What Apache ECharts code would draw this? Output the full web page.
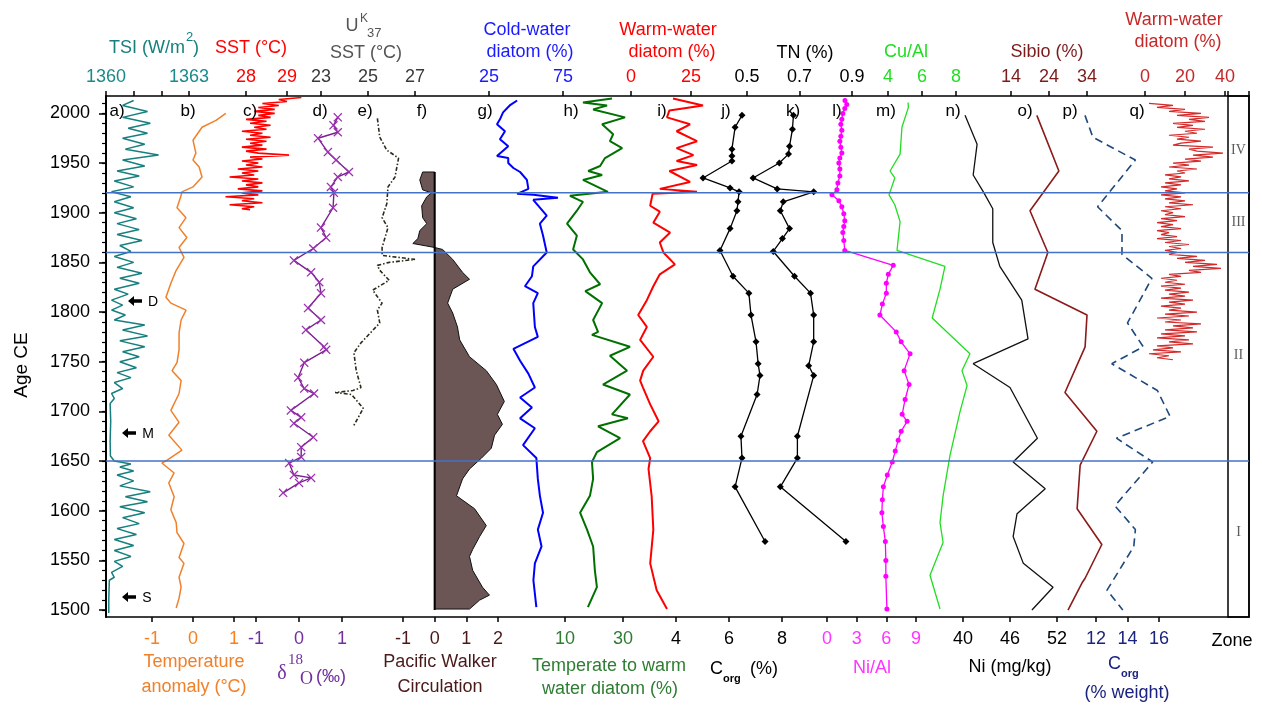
<!DOCTYPE html>
<html><head><meta charset="utf-8">
<script src="https://cdn.jsdelivr.net/npm/echarts@6/dist/echarts.min.js"></script>
<style>html,body{margin:0;padding:0;background:#fff}#c{width:1262px;height:706px}</style>
</head><body><div id="c"></div>
<script>
// ================= DATA =================
const ageLabels = [1500,1550,1600,1650,1700,1750,1800,1850,1900,1950,2000];
const ageMinorTicks = [1500,1510,1520,1530,1540,1550,1560,1570,1580,1590,1600,1610,1620,1630,1640,1650,1660,1670,1680,1690,1700,1710,1720,1730,1740,1750,1760,1770,1780,1790,1800,1810,1820,1830,1840,1850,1860,1870,1880,1890,1900,1910,1920,1930,1940,1950,1960,1970,1980,1990,2000,2010];
const zoneNames = ['IV','III','II','I'];
const zoneLabelYears = [1963,1890,1756,1578];
const zoneBoundaries = [1920,1860,1650];

const tsi = [[2013,1361.0],[2008,1360.6],[2002,1361.5],[1996,1360.6],[1990,1361.6],[1985,1360.8],[1980,1361.5],[1975,1360.6],[1969,1361.4],[1964,1360.7],[1958,1361.9],[1953,1360.6],[1947,1361.4],[1942,1360.4],[1937,1361.2],[1932,1360.3],[1926,1361.0],[1921,1360.2],[1916,1360.9],[1911,1360.3],[1905,1361.0],[1900,1360.3],[1894,1361.1],[1889,1360.4],[1883,1361.2],[1878,1360.4],[1872,1361.3],[1867,1360.5],[1861,1360.9],[1856,1360.3],[1850,1361.0],[1845,1360.4],[1839,1361.3],[1834,1360.5],[1829,1361.2],[1823,1360.3],[1818,1360.8],[1812,1360.2],[1807,1360.6],[1802,1360.2],[1797,1360.7],[1792,1360.3],[1787,1361.4],[1782,1360.6],[1776,1361.5],[1771,1360.5],[1765,1361.4],[1760,1360.6],[1755,1361.2],[1750,1360.5],[1744,1361.1],[1739,1360.4],[1734,1360.9],[1729,1360.3],[1723,1360.6],[1718,1360.2],[1713,1360.3],[1708,1360.15],[1690,1360.17],[1670,1360.15],[1655,1360.16],[1650,1360.3],[1647,1360.9],[1644,1360.5],[1640,1361.0],[1636,1360.4],[1630,1361.0],[1625,1360.5],[1619,1361.6],[1614,1360.7],[1609,1361.5],[1604,1360.5],[1598,1361.4],[1593,1360.6],[1587,1361.2],[1582,1360.4],[1576,1361.1],[1571,1360.3],[1565,1361.0],[1560,1360.3],[1554,1360.9],[1549,1360.3],[1544,1360.6],[1538,1360.2],[1533,1360.3],[1530,1360.12],[1510,1360.1],[1497,1360.1]];
const tsiTicks = [1360,1361,1362,1363], tsiLabels = [1360,1363];
const tempAnom = [[2000,0.8],[1993,0.56],[1986,0.22],[1973,0.0],[1960,0.07],[1953,0.0],[1946,0.15],[1936,0.22],[1926,0.0],[1921,-0.27],[1916,-0.3],[1905,-0.39],[1895,-0.17],[1885,-0.34],[1875,-0.15],[1865,-0.34],[1855,-0.22],[1842,-0.41],[1829,-0.54],[1815,-0.66],[1809,-0.54],[1802,-0.17],[1792,-0.29],[1779,-0.34],[1762,-0.34],[1749,-0.39],[1741,-0.51],[1731,-0.29],[1718,-0.34],[1701,-0.54],[1689,-0.34],[1676,-0.59],[1661,-0.27],[1651,-0.63],[1648,-0.76],[1638,-0.46],[1628,-0.59],[1614,-0.46],[1601,-0.54],[1588,-0.41],[1578,-0.39],[1567,-0.22],[1553,-0.34],[1547,-0.22],[1533,-0.34],[1523,-0.29],[1512,-0.34],[1502,-0.41]];
const tempTicks = [-1,0,1];
const sst = [[2016,29.35],[2014,28.8],[2012,29.0],[2010,28.4],[2008,28.8],[2006,28.3],[2004,28.7],[2002,28.2],[2000,28.7],[1998,28.3],[1996,28.6],[1994,28.0],[1992,28.5],[1990,28.1],[1988,28.6],[1986,28.2],[1984,28.5],[1982,27.9],[1980,28.4],[1978,28.1],[1976,28.6],[1974,28.0],[1972,28.5],[1970,28.1],[1968,28.4],[1966,27.9],[1964,28.5],[1962,28.0],[1960,28.3],[1958,29.05],[1956,28.1],[1954,28.4],[1952,27.9],[1950,28.3],[1948,28.0],[1946,28.4],[1944,27.8],[1942,28.3],[1940,27.9],[1938,28.2],[1936,27.6],[1934,28.3],[1932,27.9],[1930,28.4],[1928,28.0],[1926,28.3],[1924,27.8],[1922,28.4],[1920,27.9],[1918,28.3],[1916,27.5],[1914,28.2],[1912,27.9],[1910,28.4],[1908,27.6],[1906,28.2],[1904,27.9],[1903,28.1]];
const sstTicks = [28,29];
const d18o = [[1996,0.9],[1988,0.8],[1981,0.9],[1975,0.44],[1961,0.67],[1953,0.86],[1941,1.16],[1936,0.9],[1926,0.74],[1920,0.81],[1905,0.79],[1885,0.51],[1875,0.63],[1864,0.33],[1852,-0.12],[1840,0.28],[1830,0.47],[1819,0.51],[1804,0.21],[1792,0.51],[1782,0.16],[1765,0.58],[1762,0.63],[1749,0.12],[1734,-0.02],[1723,0.12],[1718,0.35],[1701,-0.19],[1694,0.05],[1688,-0.12],[1674,0.33],[1664,0.05],[1654,0.05],[1648,-0.23],[1636,-0.12],[1633,0.28],[1628,0.0],[1618,-0.37]];
const d18oTicks = [-1,0,1];
const uk37 = [[1995,25.4],[1976,25.5],[1963,25.8],[1955,26.3],[1936,26.15],[1926,25.85],[1909,25.8],[1895,25.6],[1885,25.85],[1865,25.6],[1857,25.6],[1853,27.0],[1850,25.9],[1847,25.4],[1842,25.5],[1832,25.9],[1822,25.2],[1809,25.6],[1802,25.4],[1789,25.5],[1779,25.1],[1769,24.7],[1759,24.4],[1741,24.5],[1724,24.7],[1721,24.36],[1719,23.6],[1717,24.3],[1703,24.8],[1686,24.4]];
const uk37Ticks = [23,25,27];
const walker = [[1941,-0.38],[1933,-0.47],[1923,-0.38],[1920,-0.1],[1916,-0.25],[1907,-0.41],[1895,-0.38],[1889,-0.25],[1882,-0.47],[1874,-0.53],[1869,-0.69],[1865,0],[1863,0.25],[1853,0.57],[1840,0.88],[1833,1.1],[1823,0.57],[1809,0.41],[1799,0.57],[1785,0.72],[1772,0.79],[1755,1.1],[1741,1.63],[1727,1.95],[1710,2.2],[1697,1.98],[1687,2.14],[1676,1.89],[1663,1.79],[1653,1.48],[1642,1.1],[1632,0.88],[1615,0.69],[1602,1.26],[1585,1.63],[1574,1.42],[1561,1.2],[1554,1.1],[1540,1.2],[1523,1.51],[1515,1.73],[1510,1.42],[1501,1.1]];
const walkerAxisYears = [1941,1500];
const walkerTicks = [-1,0,1,2];
const coldDiatom = [[2013,44],[2008,39],[2001,34.5],[1994,32.4],[1989,30.4],[1982,35.8],[1974,32.4],[1967,38],[1957,30.4],[1955,38],[1950,38],[1945,41.5],[1941,46],[1933,50.6],[1924,51.6],[1919,44],[1918,54.9],[1915,71.6],[1913,54.9],[1897,64],[1889,59.4],[1877,61.5],[1860,64],[1846,54.9],[1836,54],[1826,49.3],[1819,58],[1809,54.9],[1785,56],[1775,58],[1763,41.5],[1751,46],[1738,51.6],[1724,56],[1714,46],[1704,54],[1693,46],[1683,56],[1666,48],[1653,57],[1632,58],[1615,59.4],[1598,61.5],[1581,58],[1564,60.5],[1547,56],[1530,55],[1503,57]];
const coldTicks = [25,75];
const tempWarmDiatom = [[2015,26.2],[2011,16.2],[2008,24.5],[2004,19.7],[1996,30.7],[1989,22.8],[1979,26.6],[1972,25.5],[1965,29.7],[1955,23.8],[1947,22.1],[1942,18],[1938,22.8],[1933,16.2],[1921,24.8],[1917,11.7],[1911,16.2],[1902,14.1],[1889,10.7],[1877,14.1],[1863,12.8],[1853,16.2],[1840,18.6],[1828,22.1],[1821,17],[1809,22.8],[1792,19.7],[1780,21.4],[1777,19.3],[1765,32.4],[1756,25.5],[1741,31.4],[1727,23.1],[1717,32.4],[1697,26.2],[1693,31.7],[1685,21.4],[1673,29],[1659,21],[1649,19.3],[1632,19.7],[1615,18.6],[1598,15.2],[1581,17.6],[1564,19.7],[1540,20.3],[1523,21],[1503,17.9]];
const tempWarmTicks = [10,30];
const warmDiatom = [[2015,17.5],[2008,30],[2003,16],[1996,15],[1989,24.6],[1982,19],[1972,27.5],[1965,19],[1958,26],[1952,19],[1948,27.5],[1942,16],[1931,24.6],[1924,12],[1921,27.5],[1919,9],[1907,8],[1901,12],[1890,9.3],[1880,16.3],[1870,12],[1860,13.5],[1848,18.3],[1838,12],[1826,9.3],[1812,6.6],[1797,3],[1785,6.6],[1772,3.8],[1755,9.3],[1741,5.1],[1731,3.8],[1724,5],[1707,8],[1690,11.5],[1680,8],[1670,5],[1653,8],[1642,7.3],[1615,8.6],[1581,9.3],[1547,8],[1520,10.7],[1501,15]];
const warmTicks = [0,25];
const corg = [[1998,6.49],[1986,6.23],[1964,6.11],[1957,6.11],[1952,6.11],[1935,5.02],[1925,6.04],[1921,6.38],[1911,6.34],[1902,6.3],[1884,6.04],[1862,5.66],[1836,6.15],[1819,6.75],[1797,6.83],[1770,7.02],[1748,7.1],[1736,7.17],[1717,7.06],[1675,6.45],[1653,6.49],[1624,6.23],[1569,7.36]];
const corgTicks = [4,6,8];
const tn = [[1998,0.677],[1984,0.673],[1967,0.662],[1959,0.658],[1950,0.623],[1935,0.523],[1924,0.615],[1921,0.754],[1911,0.638],[1902,0.627],[1884,0.662],[1874,0.635],[1861,0.6],[1836,0.681],[1819,0.742],[1797,0.754],[1770,0.754],[1746,0.735],[1736,0.754],[1675,0.692],[1653,0.692],[1624,0.627],[1569,0.877]];
const tnTicks = [0.5,0.7,0.9];
const niAl = [[2013,1.82],[2009,2.0],[2005,1.8],[2000,1.6],[1994,1.5],[1989,1.4],[1983,1.5],[1977,1.4],[1972,1.3],[1966,1.4],[1960,1.5],[1955,1.3],[1950,1.2],[1944,1.3],[1937,1.3],[1930,1.1],[1923,1.0],[1918,0.5],[1912,1.2],[1906,1.5],[1899,1.7],[1892,1.8],[1886,1.7],[1880,1.6],[1872,1.7],[1862,1.8],[1847,6.7],[1838,6.2],[1829,6.0],[1819,6.0],[1808,5.6],[1797,5.35],[1780,7.0],[1770,7.5],[1758,8.4],[1741,7.8],[1727,8.3],[1712,7.9],[1697,7.6],[1690,8.1],[1680,7.5],[1671,7.2],[1660,6.9],[1649,6.6],[1636,6.1],[1624,5.7],[1611,5.6],[1598,5.55],[1584,5.7],[1569,5.9],[1550,5.95],[1534,5.95],[1501,6.06]];
const niAlTicks = [0,3,6,9];
const cuAl = [[2011,5.18],[2006,5.2],[1986,4.82],[1959,4.71],[1942,4.12],[1935,4.4],[1918,4.06],[1908,4.4],[1891,4.71],[1862,4.53],[1846,7.35],[1823,7.06],[1794,6.6],[1758,8.82],[1741,8.35],[1726,8.65],[1700,8.24],[1656,7.65],[1615,7.24],[1588,7.06],[1568,7.24],[1535,6.47],[1501,7.06]];
const cuAlTicks = [4,6,8];
const ni = [[1998,40.26],[1969,41.8],[1938,41.3],[1921,42.6],[1904,43.8],[1870,43.8],[1846,44.7],[1812,47.5],[1773,48.3],[1748,41.3],[1724,46],[1673,49.5],[1649,46.4],[1622,50.5],[1597,46.9],[1574,46.4],[1547,47.7],[1523,51.5],[1500,48.8]];
const niTicks = [40,46,52];
const sibio = [[1998,20.8],[1942,26.6],[1902,19],[1860,23.7],[1823,20.3],[1797,34],[1765,33.5],[1719,28.2],[1680,36.6],[1646,32.2],[1602,31.4],[1566,37.9],[1532,33.5],[1528,32.8],[1500,29]];
const sibioTicks = [14,24,34];
const corgW = [[1998,11.3],[1976,11.8],[1953,14.5],[1906,12.1],[1882,13.65],[1858,13.65],[1834,15.55],[1789,14.0],[1765,15],[1748,13.0],[1721,15.9],[1695,16.7],[1673,13.3],[1649,15.6],[1605,13.2],[1581,14.5],[1564,14.4],[1520,12.7],[1500,13.7]];
const corgWTicks = [12,14,16];
const warmDiatom2 = [[2010,2],[2008,14],[2006,6],[2004,20],[2002,12],[2000,28],[1998,16],[1996,32],[1994,22],[1992,30],[1990,14],[1988,24],[1986,16],[1984,30],[1982,20],[1980,26],[1978,12],[1976,22],[1974,16],[1972,28],[1970,18],[1968,14],[1966,34],[1964,22],[1962,26],[1960,39],[1958,24],[1956,34],[1954,20],[1952,28],[1950,14],[1948,22],[1946,12],[1944,26],[1942,16],[1940,20],[1938,10],[1936,18],[1934,12],[1932,22],[1930,10],[1928,18],[1926,8],[1924,16],[1922,10],[1920,20],[1918,8],[1916,18],[1914,10],[1912,20],[1910,12],[1908,24],[1906,10],[1904,18],[1902,8],[1900,14],[1898,10],[1896,20],[1894,8],[1892,16],[1890,6],[1888,14],[1886,8],[1884,18],[1882,6],[1880,12],[1878,8],[1876,16],[1874,6],[1872,18],[1870,10],[1868,22],[1866,12],[1864,18],[1862,10],[1860,16],[1858,12],[1856,26],[1854,16],[1852,30],[1850,20],[1848,36],[1846,24],[1844,38],[1842,22],[1840,28],[1838,12],[1836,18],[1834,8],[1832,16],[1830,10],[1828,20],[1826,8],[1824,18],[1822,10],[1820,22],[1818,12],[1816,20],[1814,8],[1812,24],[1810,12],[1808,20],[1806,8],[1804,18],[1802,12],[1800,26],[1798,10],[1796,22],[1794,6],[1792,18],[1790,10],[1788,28],[1786,14],[1784,24],[1782,10],[1780,26],[1778,8],[1776,20],[1774,6],[1772,22],[1770,12],[1768,24],[1766,6],[1764,14],[1762,4],[1760,18],[1758,2],[1756,12],[1754,6],[1752,14]];
const warm2Ticks = [0,20,40];

// ================= LAYOUT / STYLE =================
const FONT = '"Liberation Sans", Arial, sans-serif';
const Y_MIN = 1493, Y_MAX = 2017.5;
const TOP = 96, H = 521;
const plain = v => String(v);
const grids = [], xAxes = [], yAxes = [], series = [];

// frame grid: x0 / y0 (labels + major ticks), y1 (minor ticks)
grids.push({left:106, top:TOP, width:1143, height:H, show:true, borderColor:'#000', borderWidth:1.5, backgroundColor:'rgba(0,0,0,0)'});
xAxes.push({gridIndex:0, type:'value', min:0, max:1, show:false});
yAxes.push({gridIndex:0, type:'value', min:Y_MIN, max:Y_MAX, position:'left',
  axisLine:{show:true, onZero:false, lineStyle:{color:'#000', width:2}},
  axisTick:{show:true, length:7, customValues:ageLabels, lineStyle:{color:'#000', width:1.5}},
  axisLabel:{customValues:ageLabels, formatter:plain, fontSize:18, color:'#000', margin:16, fontFamily:FONT},
  splitLine:{show:false}});
yAxes.push({gridIndex:0, type:'value', min:Y_MIN, max:Y_MAX, position:'left', offset:0,
  axisLine:{show:false, onZero:false},
  axisTick:{show:true, length:4, customValues:ageMinorTicks, lineStyle:{color:'#000', width:1.2}},
  axisLabel:{show:false}, splitLine:{show:false}});
const FRAME = {x:0, y:0};
// zone column
grids.push({left:1228, top:TOP, width:21, height:H, show:true, borderColor:'#000', borderWidth:1.5, backgroundColor:'rgba(0,0,0,0)'});
xAxes.push({gridIndex:1, type:'value', min:0, max:1, position:'top', axisLine:{show:false, onZero:false},
  axisTick:{show:true, length:5, customValues:[0,1], lineStyle:{color:'#000', width:1.5}}, axisLabel:{show:false}, splitLine:{show:false}});
yAxes.push({gridIndex:1, type:'value', min:Y_MIN, max:Y_MAX, show:false});
const ZONE = {x:xAxes.length - 1, y:yAxes.length - 1};

function addPanel(p) {
  const gi = grids.length;
  grids.push({left:p.x0, top:TOP, width:p.x1 - p.x0, height:H});
  xAxes.push({gridIndex:gi, type:'value', min:p.min, max:p.max, position:p.pos,
    axisLine:{show:false, onZero:false},
    axisTick:{show:true, length:5, customValues:p.ticks, lineStyle:{color:'#000', width:1.5}},
    axisLabel:{customValues:p.labels || p.ticks, formatter:plain, color:p.labelColor, fontSize:18, fontFamily:FONT, margin:p.pos === 'top' ? 10 : 13},
    splitLine:{show:false}});
  yAxes.push({gridIndex:gi, type:'value', min:Y_MIN, max:Y_MAX, show:false});
  return {x:xAxes.length - 1, y:yAxes.length - 1};
}
function lineSeries(ax, data, color, width, extra) {
  return Object.assign({type:'line', xAxisIndex:ax.x, yAxisIndex:ax.y, data:data.map(d => [d[1], d[0]]),
    symbol:'none', clip:false, silent:true, z:3, lineStyle:{color:color, width:width}}, extra || {});
}
let g;
g = addPanel({x0:106, x1:189, min:1360, max:1363, pos:'top', ticks:tsiTicks, labels:tsiLabels, labelColor:'#1b8a8a'});
series.push(lineSeries(g, tsi, '#17807e', 1.5));
g = addPanel({x0:152, x1:234, min:-1, max:1, pos:'bottom', ticks:tempTicks, labelColor:'#f5811f'});
series.push(lineSeries(g, tempAnom, '#f0802a', 1.5));
g = addPanel({x0:221.4, x1:303.4, min:27.4, max:29.4, pos:'top', ticks:sstTicks, labelColor:'#ff0000'});
series.push(lineSeries(g, sst, '#ff0000', 1.6));
g = addPanel({x0:256, x1:355, min:-1, max:1.3, pos:'bottom', ticks:d18oTicks, labelColor:'#7030a0'});
series.push(lineSeries(g, d18o, '#7a1f8f', 1.4, {symbol:'path://M1,0L5,4L9,0L10,1L6,5L10,9L9,10L5,6L1,10L0,9L4,5L0,1Z', symbolSize:9, showSymbol:true, itemStyle:{color:'#9b30b0'}}));
g = addPanel({x0:321, x1:419.7, min:23, max:27.2, pos:'top', ticks:uk37Ticks, labelColor:'#3a3a3a'});
series.push(lineSeries(g, uk37, '#2b2b1b', 1.6, {lineStyle:{color:'#2b2b1b', width:1.6, type:[4,2,1.5,2]}}));
g = addPanel({x0:403, x1:507.5, min:-1, max:2.3, pos:'bottom', ticks:walkerTicks, labelColor:'#4a1a1a'});
series.push({type:'custom', xAxisIndex:g.x, yAxisIndex:g.y, silent:true, z:2,
  data: walker.map(d => [d[1], d[0]]), encode:{x:0, y:1},
  renderItem: function (params, api) {
    if (params.dataIndex !== 0) return null;
    const pts = [api.coord([0, walker[0][0]])];
    walker.forEach(d => pts.push(api.coord([d[1], d[0]])));
    pts.push(api.coord([0, walker[walker.length - 1][0]]));
    return {type:'polygon', shape:{points:pts}, style:{fill:'#6b5555', stroke:'#111', lineWidth:1}};
  }});
series.push({type:'line', xAxisIndex:g.x, yAxisIndex:g.y, data:walkerAxisYears.map(y => [0, y]), symbol:'none', silent:true, z:4, lineStyle:{color:'#000', width:2}});
g = addPanel({x0:489, x1:563, min:25, max:75, pos:'top', ticks:coldTicks, labelColor:'#1a1aff'});
series.push(lineSeries(g, coldDiatom, '#0000ff', 2));
g = addPanel({x0:565, x1:631.7, min:10, max:33, pos:'bottom', ticks:tempWarmTicks, labelColor:'#2e7d32'});
series.push(lineSeries(g, tempWarmDiatom, '#007000', 2));
g = addPanel({x0:631, x1:705.4, min:0, max:31, pos:'top', ticks:warmTicks, labelColor:'#ff0000'});
series.push(lineSeries(g, warmDiatom, '#ff0000', 2));
g = addPanel({x0:676, x1:782, min:4, max:8, pos:'bottom', ticks:corgTicks, labelColor:'#000'});
series.push(lineSeries(g, corg, '#000', 1.3, {symbol:'diamond', symbolSize:7, showSymbol:true, itemStyle:{color:'#000'}}));
g = addPanel({x0:747, x1:852, min:0.5, max:0.9, pos:'top', ticks:tnTicks, labelColor:'#000'});
series.push(lineSeries(g, tn, '#000', 1.3, {symbol:'diamond', symbolSize:7, showSymbol:true, itemStyle:{color:'#000'}}));
g = addPanel({x0:827, x1:916, min:0, max:9, pos:'bottom', ticks:niAlTicks, labelColor:'#ff33ff'});
series.push(lineSeries(g, niAl, '#ff00ff', 1.3, {symbol:'circle', symbolSize:5, showSymbol:true, itemStyle:{color:'#ff00ff'}}));
g = addPanel({x0:888, x1:973, min:4, max:9, pos:'top', ticks:cuAlTicks, labelColor:'#22dd22'});
series.push(lineSeries(g, cuAl, '#22dd22', 1.3));
g = addPanel({x0:963, x1:1057, min:40, max:52, pos:'bottom', ticks:niTicks, labelColor:'#000'});
series.push(lineSeries(g, ni, '#111', 1.3));
g = addPanel({x0:1011, x1:1102.2, min:14, max:38, pos:'top', ticks:sibioTicks, labelColor:'#7b1c1c'});
series.push(lineSeries(g, sibio, '#8b1a1a', 1.6));
g = addPanel({x0:1080.25, x1:1174.75, min:11, max:17, pos:'bottom', ticks:corgWTicks, labelColor:'#1a237e'});
series.push(lineSeries(g, corgW, '#1f497d', 1.6, {lineStyle:{color:'#1f497d', width:1.6, type:[8,5]}}));
g = addPanel({x0:1145, x1:1225, min:0, max:40, pos:'top', ticks:warm2Ticks, labelColor:'#c62828'});
series.push(lineSeries(g, warmDiatom2, '#d42a2a', 1.2));
zoneBoundaries.forEach(yr => series.push({type:'line', xAxisIndex:FRAME.x, yAxisIndex:FRAME.y, data:[[0, yr], [1, yr]], symbol:'none', silent:true, z:10, lineStyle:{color:'#4472c4', width:1.5}}));
series.push({type:'scatter', xAxisIndex:ZONE.x, yAxisIndex:ZONE.y, symbolSize:0, silent:true, z:10,
  data: zoneLabelYears.map(y => [0.5, y]),
  label:{show:true, position:'inside', formatter: p => zoneNames[p.dataIndex], color:'#333', fontSize:14, fontFamily:'"Liberation Serif", serif'}});

function T(x, y, text, color, size, align, fontStr) {
  return {type:'text', x:x, y:y, silent:true, z:20, style:{text:text, fill:color, font:fontStr || (size + 'px ' + FONT),
    textAlign:align || 'center', textVerticalAlign:'middle', align:align || 'center', verticalAlign:'middle'}};
}
const gfx = [];
gfx.push(T(185, 48, 'TSI (W/m', '#17807e', 18, 'right'));
gfx.push(T(186, 37, '2', '#17807e', 13, 'left'));
gfx.push(T(193, 48, ')', '#17807e', 18, 'left'));
gfx.push(T(251, 48, 'SST (°C)', '#ff0000', 18));
gfx.push(T(352, 26, 'U', '#555', 18));
gfx.push(T(360, 19, 'K', '#555', 12, 'left'));
gfx.push(T(367, 33, '37', '#555', 13, 'left'));
gfx.push(T(366, 53, 'SST (°C)', '#555', 18));
gfx.push(T(527, 30, 'Cold-water', '#1a1aff', 18));
gfx.push(T(530, 52, 'diatom (%)', '#1a1aff', 18));
gfx.push(T(668, 30, 'Warm-water', '#ff0000', 18));
gfx.push(T(672, 52, 'diatom (%)', '#ff0000', 18));
gfx.push(T(805, 53, 'TN (%)', '#000', 18));
gfx.push(T(906, 52, 'Cu/Al', '#22dd22', 18));
gfx.push(T(1047, 52, 'Sibio (%)', '#7b1c1c', 18));
gfx.push(T(1174, 20, 'Warm-water', '#c62828', 18));
gfx.push(T(1178, 42, 'diatom (%)', '#c62828', 18));
gfx.push(T(194, 662, 'Temperature', '#f0802a', 18));
gfx.push(T(194, 687, 'anomaly (°C)', '#f0802a', 18));
gfx.push(T(282, 674, 'δ', '#7030a0', 20, 'center', '20px "Liberation Serif", serif'));
gfx.push(T(288, 660, '18', '#7030a0', 15, 'left', '15px "Liberation Serif", serif'));
gfx.push(T(300, 679, 'O', '#7030a0', 18, 'left', '18px "Liberation Serif", serif'));
gfx.push(T(316, 677, '(‰)', '#7030a0', 18, 'left'));
gfx.push(T(440, 662, 'Pacific Walker', '#4a1a1a', 18));
gfx.push(T(440, 687, 'Circulation', '#4a1a1a', 18));
gfx.push(T(609, 666, 'Temperate to warm', '#2e7d32', 18));
gfx.push(T(610, 689, 'water diatom (%)', '#2e7d32', 18));
gfx.push(T(710, 669, 'C', '#000', 18, 'left'));
gfx.push(T(723, 679, 'org', '#000', 11, 'left', 'bold 11px ' + FONT));
gfx.push(T(750, 669, '(%)', '#000', 18, 'left'));
gfx.push(T(872, 668, 'Ni/Al', '#ff33ff', 18));
gfx.push(T(1010, 667, 'Ni (mg/kg)', '#000', 18));
gfx.push(T(1108, 664, 'C', '#1a237e', 18, 'left'));
gfx.push(T(1121, 674, 'org', '#1a237e', 11, 'left', 'bold 11px ' + FONT));
gfx.push(T(1127, 693, '(% weight)', '#1a237e', 18));
gfx.push(T(1232, 641, 'Zone', '#000', 18));
gfx.push({type:'text', x:22, y:365, rotation:Math.PI / 2, silent:true, z:20,
  style:{text:'Age CE', fill:'#000', font:'19px ' + FONT, textAlign:'center', textVerticalAlign:'middle', align:'center', verticalAlign:'middle'}});
const letters = [['a)',117],['b)',188],['c)',250],['d)',320],['e)',365],['f)',422],['g)',485],['h)',571],['i)',662],['j)',726],['k)',793],['l)',837],['m)',886],['n)',953],['o)',1025],['p)',1070],['q)',1137]];
letters.forEach(l => gfx.push(T(l[1], 111, l[0], '#000', 17)));
[['D',128,301,153],['M',122,433,148],['S',122,597,147]].forEach(a => {
  gfx.push({type:'polygon', x:a[1], y:a[2], silent:true, z:20,
    shape:{points:[[0,0],[6,-5],[6,-1.8],[14,-1.8],[14,1.8],[6,1.8],[6,5]]}, style:{fill:'#000'}});
  gfx.push(T(a[3], a[2] + 1, a[0], '#000', 14));
});

const chart = echarts.init(document.getElementById('c'));
chart.setOption({animation:false, backgroundColor:'#fff', grid:grids, xAxis:xAxes, yAxis:yAxes, series:series, graphic:{elements:gfx}});
</script>
</body></html>
